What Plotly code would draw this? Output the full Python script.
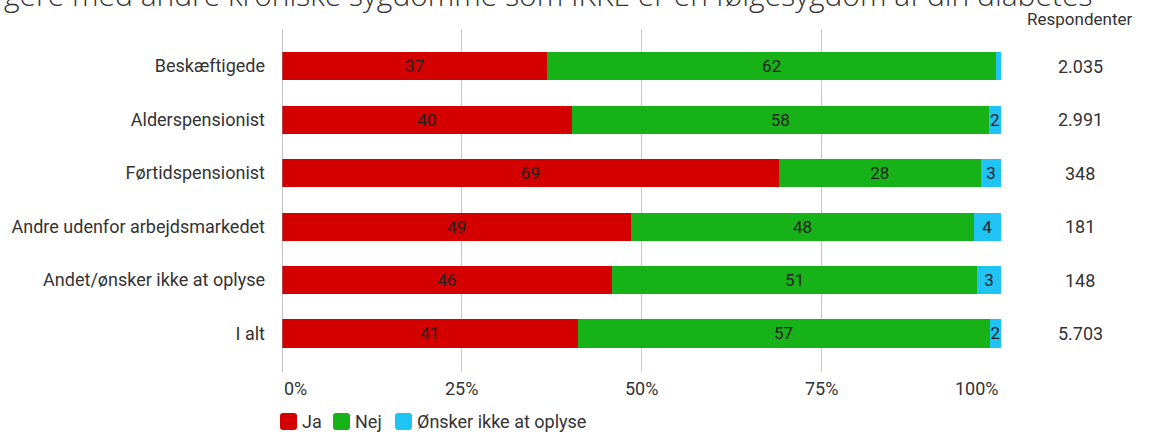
import plotly.graph_objects as go

categories = ["Beskæftigede", "Alderspensionist", "Førtidspensionist",
              "Andre udenfor arbejdsmarkedet", "Andet/ønsker ikke at oplyse", "I alt"]
ja = [36.9, 40.3, 69.1, 48.6, 45.9, 41.1]
nej = [62.4, 58.0, 28.1, 47.6, 50.8, 57.3]
onsker = [0.7, 1.7, 2.8, 3.8, 3.3, 1.6]
respondenter = ["2.035", "2.991", "348", "181", "148", "5.703"]
series_names = ["Ja", "Nej", "Ønsker ikke at oplyse"]
colors = ["#d40000", "#17b217", "#1fc4f4"]
tick_vals = [0, 25, 50, 75, 100]
tick_labels = ["0%", "25%", "50%", "75%", "100%"]
title_text = "gere med andre kroniske sygdomme som IKKE er en følgesygdom af din diabetes"

W, H = 1150, 435
ML, MR, MT, MB = 282, 149, 29, 63
PW, PH = W - ML - MR, H - MT - MB
FS = 18


def px_x(p):
    return (p - ML) / PW


def px_y(p):
    return (H - MB - p) / PH


def rounded_rect(x0, y0, x1, y1, r):
    X = px_x
    Y = px_y
    return (f"M {X(x0 + r)} {Y(y0)} L {X(x1 - r)} {Y(y0)} "
            f"Q {X(x1)} {Y(y0)} {X(x1)} {Y(y0 + r)} L {X(x1)} {Y(y1 - r)} "
            f"Q {X(x1)} {Y(y1)} {X(x1 - r)} {Y(y1)} L {X(x0 + r)} {Y(y1)} "
            f"Q {X(x0)} {Y(y1)} {X(x0)} {Y(y1 - r)} L {X(x0)} {Y(y0 + r)} "
            f"Q {X(x0)} {Y(y0)} {X(x0 + r)} {Y(y0)} Z")


fig = go.Figure()
for name, vals, col in zip(series_names, [ja, nej, onsker], colors):
    txt = [f"{v:.0f}" if v >= 1.5 else "" for v in vals]
    fig.add_trace(go.Bar(
        y=categories, x=vals, name=name, orientation="h",
        marker=dict(color=col, line=dict(width=0)),
        text=txt, textposition="inside", insidetextanchor="middle",
        constraintext="none",
        textfont=dict(color="#222222", size=17, family="Roboto"),
        textangle=0, cliponaxis=False, showlegend=False,
    ))

fig.update_layout(
    width=W, height=H, barmode="stack", bargap=0.475,
    margin=dict(l=ML, r=MR, t=MT, b=MB),
    plot_bgcolor="white", paper_bgcolor="white",
    font=dict(family="Roboto", color="#333333", size=FS),
    showlegend=False,
    xaxis=dict(range=[0, 100], tickvals=tick_vals, showticklabels=False,
               showgrid=True, gridcolor="#c8c8c8", gridwidth=1, zeroline=False,
               fixedrange=True),
    yaxis=dict(range=[5.72, -0.694], showgrid=False, zeroline=False,
               ticks="", ticklabelstandoff=16,
               tickfont=dict(size=FS, color="#333333"), fixedrange=True),
)
fig.add_shape(type="line", xref="x", yref="paper", x0=0, x1=0, y0=0, y1=1,
              line=dict(color="#888888", width=1))

# x tick labels
for v, lab in zip(tick_vals, tick_labels):
    anchor = "left" if v == tick_vals[0] else ("right" if v == tick_vals[-1] else "center")
    fig.add_annotation(x=v, xref="x", y=px_y(388), yref="paper", text=lab,
                       showarrow=False, xanchor=anchor, yanchor="middle",
                       font=dict(size=FS, color="#333333"))

# custom legend
leg_sq_x = [280, 333, 395]
for sx, name, col in zip(leg_sq_x, series_names, colors):
    fig.add_shape(type="path", xref="paper", yref="paper",
                  path=rounded_rect(sx, 413, sx + 17, 430, 3),
                  fillcolor=col, line=dict(width=0))
    fig.add_annotation(x=px_x(sx + 20), xref="paper", y=px_y(421), yref="paper",
                       text=name, showarrow=False, xanchor="left", yanchor="middle",
                       font=dict(size=FS, color="#333333"))

# Respondenter column
fig.add_annotation(x=px_x(1134), xref="paper", y=px_y(19), yref="paper",
                   text="Respondenter", showarrow=False, xanchor="right", yanchor="middle",
                   font=dict(size=17, color="#333333"))
for c, r in zip(categories, respondenter):
    fig.add_annotation(x=px_x(1080), xref="paper", y=c, yref="y", text=r,
                       showarrow=False, xanchor="center", yanchor="middle",
                       font=dict(size=FS, color="#333333"))

# clipped title
fig.add_annotation(x=px_x(1094), xref="paper", y=px_y(-6), yref="paper",
                   text=title_text, showarrow=False, xanchor="right", yanchor="middle",
                   font=dict(size=30, color="#333333", family="Open Sans", weight=300))

fig.write_html("out.html", config={"displayModeBar": False},
               post_script="document.body.style.margin='0';")
